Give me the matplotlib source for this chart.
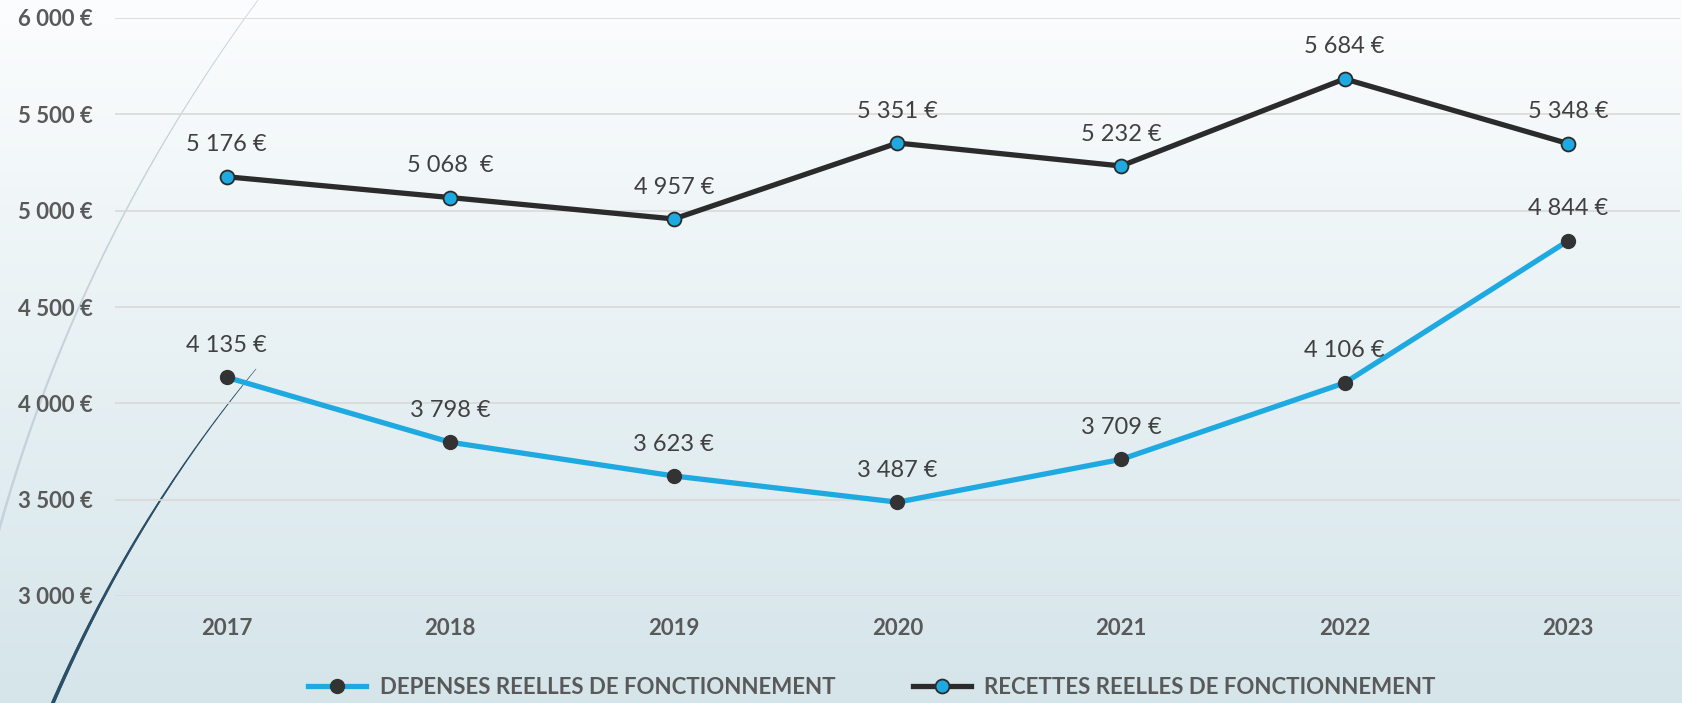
import matplotlib
matplotlib.use("Agg")
import matplotlib.pyplot as plt
import numpy as np
from matplotlib.collections import LineCollection

# data
years = ["2017", "2018", "2019", "2020", "2021", "2022", "2023"]
depenses = [4135, 3798, 3623, 3487, 3709, 4106, 4844]
recettes = [5176, 5068, 4957, 5351, 5232, 5684, 5348]
dep_labels = ["4 135 €", "3 798 €", "3 623 €", "3 487 €", "3 709 €", "4 106 €", "4 844 €"]
rec_labels = ["5 176 €", "5 068  €", "4 957 €", "5 351 €", "5 232 €", "5 684 €", "5 348 €"]
yticks = [3000, 3500, 4000, 4500, 5000, 5500, 6000]
ytick_labels = ["3 000 €", "3 500 €", "4 000 €", "4 500 €", "5 000 €", "5 500 €", "6 000 €"]

BLUE = "#1ea9e1"
DARK = "#2b2b2b"
GREY = "#595959"

plt.rcParams["font.family"] = ["Lato", "DejaVu Sans"]

W, H = 1683, 703
fig = plt.figure(figsize=(W / 100, H / 100), dpi=100)

# background gradient
bg = fig.add_axes([0, 0, 1, 1], zorder=-10)
grad = np.linspace(0, 1, 256).reshape(-1, 1)
top = np.array([0.985, 0.992, 0.995])
bot = np.array([0.835, 0.898, 0.918])
img = top + (bot - top) * grad[:, :, None]
bg.imshow(img, aspect="auto", extent=[0, 1, 0, 1])
bg.set_axis_off()


# decorative arcs (pixel coords from top-left)
def bezier(p0, c, p2, n=200):
    t = np.linspace(0, 1, n)[:, None]
    p0, c, p2 = map(np.array, (p0, c, p2))
    pts = (1 - t) ** 2 * p0 + 2 * (1 - t) * t * c + t ** 2 * p2
    return np.column_stack([pts[:, 0] / W, 1 - pts[:, 1] / H])


def arc(pts, w0, w1, color):
    segs = np.stack([pts[:-1], pts[1:]], axis=1)
    lw = np.linspace(w0, w1, len(segs))
    lc = LineCollection(segs, linewidths=lw, colors=color, transform=fig.transFigure,
                        zorder=-5, capstyle="round")
    fig.add_artist(lc)


arc(bezier((258, 0), (73, 252), (-5, 545)), 0.5, 1.8, "#c5d2d9")
arc(bezier((256, 369), (132, 519), (52, 705)), 0.4, 2.6, "#2b4f66")

ax = fig.add_axes([115 / W, 1 - 596 / H, (1680 - 115) / W, (596 - 18) / H])
ax.patch.set_alpha(0)
x = np.arange(len(years))

ax.plot(x, depenses, color=BLUE, lw=3.8, marker="o", ms=10, mfc="#333333", mec="#333333",
        label="DEPENSES REELLES DE FONCTIONNEMENT", zorder=3)
ax.plot(x, recettes, color=DARK, lw=3.8, marker="o", ms=10, mfc=BLUE, mec=DARK, mew=1.3,
        label="RECETTES REELLES DE FONCTIONNEMENT", zorder=3)

for xi, v, s in zip(x, depenses, dep_labels):
    ax.annotate(s, (xi, v), xytext=(0, 23), textcoords="offset points", ha="center",
                va="center", fontsize=17, color="#404040")
for xi, v, s in zip(x, recettes, rec_labels):
    ax.annotate(s, (xi, v), xytext=(0, 23), textcoords="offset points", ha="center",
                va="center", fontsize=17, color="#404040")

ax.set_xlim(-0.5, 6.5)
ax.set_ylim(3000, 6000)
ax.set_yticks(yticks)
ax.set_yticklabels(ytick_labels, fontsize=16, fontweight="bold", color=GREY)
ax.set_xticks(x)
ax.set_xticklabels(years, fontsize=16, fontweight="bold", color=GREY)
ax.tick_params(axis="y", length=0, pad=16)
ax.tick_params(axis="x", length=0, pad=16)
ax.grid(axis="y", color="#d9d9d9", lw=1.2)
ax.set_axisbelow(True)
for sp in ax.spines.values():
    sp.set_visible(False)

leg = fig.legend(loc="center", bbox_to_anchor=(872 / W, 16 / H), ncol=2, frameon=False,
                 prop={"size": 16, "weight": "bold"}, handlelength=2.6, columnspacing=3.5,
                 handletextpad=0.6)
for t in leg.get_texts():
    t.set_color(GREY)

fig.savefig("out.png", dpi=100)
